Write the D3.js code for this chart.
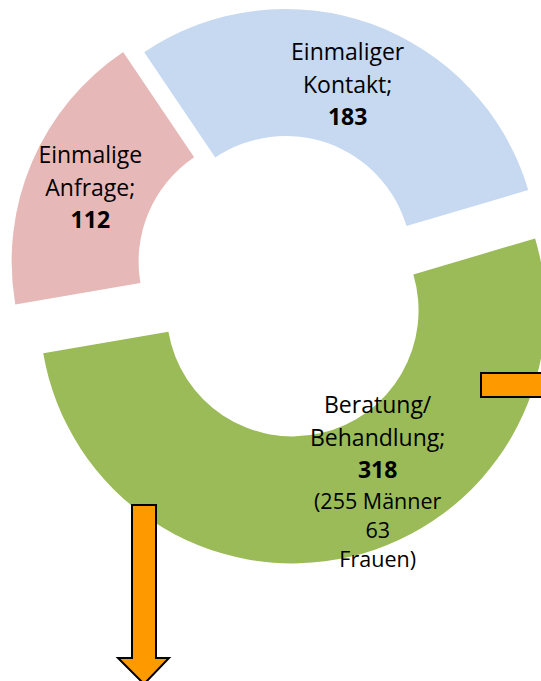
<!DOCTYPE html>
<html lang="de">
<head>
<meta charset="utf-8">
<title>Beratung / Behandlung</title>
<script src="https://cdn.jsdelivr.net/npm/d3@7/dist/d3.min.js"></script>
<style>
  body { margin: 0; background: #fff; }
  svg { display: block; }
  .lbl { font-family: "Open Sans", sans-serif; fill: #000; }
</style>
</head>
<body>
<script>
// data
const categories = ["Einmaliger Kontakt", "Beratung/Behandlung", "Einmalige Anfrage"];
const values = [183, 318, 112];
const labelLines = [["Einmaliger", "Kontakt;"], ["Beratung/", "Behandlung;"], ["Einmalige", "Anfrage;"]];
const genderNotes = [[], ["(255 Männer", "63", "Frauen)"], []];

// styling
const colors = ["#c6d9f1", "#9bbb59", "#e6b9b8"];
const explode = [8, 42, 20];          // px offset of each slice along its bisector
const labelShift = [[-2, 1], [42, -13], [0, 0]];

const w = 541, h = 681;
const cx = 283, cy = 269.5;
const outerR = 253, innerR = 126;

const svg = d3.select("body").append("svg")
  .attr("width", w)
  .attr("height", h);

const pie = d3.pie()
  .sort(null)
  .startAngle(-34 * Math.PI / 180)
  .endAngle(326 * Math.PI / 180)
  .value(d => d.value);

const arc = d3.arc()
  .innerRadius(innerR)
  .outerRadius(outerR);

const slices = pie(categories.map((c, i) => ({ name: c, value: values[i], i: i })));

const offset = d => {
  const a = (d.startAngle + d.endAngle) / 2;
  const e = explode[d.data.i];
  return [cx + Math.sin(a) * e, cy - Math.cos(a) * e];
};

const g = svg.append("g");

g.selectAll("path.slice")
  .data(slices)
  .enter()
  .append("path")
  .attr("class", "slice")
  .attr("transform", d => "translate(" + offset(d) + ")")
  .attr("d", arc)
  .attr("fill", d => colors[d.data.i]);

// labels
const bigSize = 23, smallSize = 21.5;
const bigLH = 32.5, smallLH = 29;

slices.forEach(d => {
  const i = d.data.i;
  const o = offset(d);
  const c = arc.centroid(d);
  const ax = o[0] + c[0] + labelShift[i][0];
  const ay = o[1] + c[1] + labelShift[i][1];

  const lines = labelLines[i].map(t => ({ t: t, size: bigSize, lh: bigLH, bold: false }))
    .concat([{ t: String(values[i]), size: bigSize, lh: bigLH, bold: true }])
    .concat(genderNotes[i].map(t => ({ t: t, size: smallSize, lh: smallLH, bold: false })));

  let pos = 0;
  lines.forEach((l, k) => {
    if (k > 0) pos += (lines[k - 1].lh + l.lh) / 2;
    l.c = pos;
  });
  const mid = (lines[0].c + lines[lines.length - 1].c) / 2;

  const txt = svg.append("text")
    .attr("class", "lbl")
    .attr("text-anchor", "middle");

  lines.forEach(l => {
    txt.append("tspan")
      .attr("x", ax)
      .attr("y", ay + l.c - mid + l.size * 0.36)
      .style("font-size", l.size + "px")
      .style("font-weight", l.bold ? "bold" : "normal")
      .text(l.t);
  });
});

// orange arrows
const arrowStyle = sel => sel.attr("fill", "#ff9900").attr("stroke", "#000").attr("stroke-width", 2);

svg.append("path")
  .attr("d", "M481,373 L560,373 L560,397 L481,397 Z")
  .call(arrowStyle);

svg.append("path")
  .attr("d", "M132,505 L156,505 L156,658 L169,658 L144,684 L118,658 L132,658 Z")
  .call(arrowStyle);
</script>
</body>
</html>
